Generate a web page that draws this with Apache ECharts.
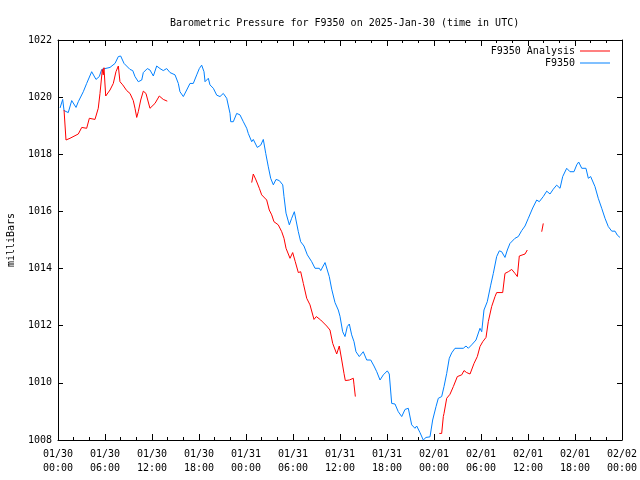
<!DOCTYPE html>
<html>
<head>
<meta charset="utf-8">
<script src="https://cdn.jsdelivr.net/npm/echarts@6/dist/echarts.min.js"></script>
<style>html,body{margin:0;padding:0;background:#fff}#c{width:640px;height:480px}</style>
</head>
<body>
<div id="c"></div>
<script>
var titleText = 'Barometric Pressure for F9350 on 2025-Jan-30 (time in UTC)';
var yAxisName = 'milliBars';
var xTickLabels = ['01/30\n00:00','01/30\n06:00','01/30\n12:00','01/30\n18:00','01/31\n00:00','01/31\n06:00','01/31\n12:00','01/31\n18:00','02/01\n00:00','02/01\n06:00','02/01\n12:00','02/01\n18:00','02/02\n00:00'];
var seriesNames = ['F9350 Analysis', 'F9350'];

// hours since 2025-01-30 00:00 UTC
var blueHours = [0.26,0.60,0.77,1.31,1.75,2.30,2.59,3.23,3.66,4.30,4.85,5.27,5.58,6.00,6.64,7.28,7.70,8.00,8.43,9.19,9.54,9.83,10.25,10.69,10.89,11.40,11.74,12.17,12.60,13.02,13.44,13.88,14.30,14.94,15.36,15.57,16.00,16.43,16.85,17.27,17.71,18.04,18.34,18.64,18.77,19.19,19.40,19.83,20.26,20.68,21.10,21.54,21.96,22.05,22.38,22.81,23.23,23.66,24.09,24.29,24.73,24.93,25.44,25.88,26.21,26.52,26.85,27.15,27.49,27.83,28.25,28.69,28.85,29.11,29.53,29.83,30.17,30.38,30.68,30.98,31.40,31.83,32.39,32.81,33.36,33.54,34.09,34.30,34.63,34.94,35.36,35.78,36.00,36.34,36.64,36.93,37.19,37.49,37.79,38.04,38.46,38.97,39.41,39.92,40.34,40.69,41.11,41.53,42.04,42.29,42.60,43.02,43.44,43.88,44.30,44.72,45.15,45.57,45.79,46.21,46.63,46.98,47.49,47.83,48.26,48.55,48.98,49.28,49.62,49.95,50.26,50.68,51.74,52.09,52.38,52.81,53.36,53.87,54.09,54.38,54.80,55.24,55.57,56.00,56.34,56.64,57.06,57.36,57.70,58.34,58.76,59.20,59.62,60.04,60.60,61.11,61.44,61.95,62.39,62.81,63.23,63.66,64.09,64.43,64.94,65.36,65.87,66.22,66.47,66.86,67.40,67.70,68.00,68.55,68.97,69.41,69.83,70.25,70.69,71.11,71.40,71.74];
var blueValues = [1019.62,1019.92,1019.53,1019.46,1019.88,1019.64,1019.84,1020.19,1020.48,1020.89,1020.62,1020.72,1020.97,1021.00,1021.04,1021.18,1021.42,1021.44,1021.18,1020.97,1020.93,1020.72,1020.54,1020.60,1020.86,1021.00,1020.95,1020.74,1021.09,1021.00,1020.93,1021.00,1020.86,1020.78,1020.48,1020.19,1020.02,1020.25,1020.48,1020.48,1020.78,1021.00,1021.12,1020.89,1020.54,1020.66,1020.43,1020.31,1020.07,1020.02,1020.13,1019.96,1019.43,1019.14,1019.14,1019.43,1019.38,1019.14,1018.91,1018.73,1018.44,1018.52,1018.24,1018.32,1018.52,1018.03,1017.56,1017.16,1016.93,1017.12,1017.08,1016.93,1016.52,1015.94,1015.53,1015.76,1015.99,1015.70,1015.29,1014.94,1014.79,1014.48,1014.24,1014.01,1014.01,1013.93,1014.21,1014.16,1013.72,1013.28,1012.81,1012.55,1012.33,1011.79,1011.62,1011.97,1012.06,1011.68,1011.44,1011.09,1010.92,1011.09,1010.80,1010.80,1010.59,1010.39,1010.10,1010.28,1010.42,1010.31,1009.28,1009.26,1008.99,1008.82,1009.07,1009.11,1008.53,1008.41,1008.49,1008.26,1008.00,1008.09,1008.11,1008.70,1009.17,1009.46,1009.52,1009.87,1010.33,1010.86,1011.05,1011.21,1011.21,1011.29,1011.21,1011.33,1011.50,1011.91,1011.79,1012.55,1012.84,1013.42,1013.83,1014.42,1014.62,1014.59,1014.39,1014.65,1014.88,1015.06,1015.12,1015.33,1015.49,1015.76,1016.12,1016.40,1016.34,1016.52,1016.71,1016.61,1016.78,1016.92,1016.81,1017.22,1017.51,1017.39,1017.39,1017.63,1017.73,1017.51,1017.51,1017.16,1017.22,1016.87,1016.46,1016.11,1015.76,1015.47,1015.31,1015.31,1015.17,1015.09];

// null entries mark gaps in the analysis series
var redHours = [0.77,1.02,1.53,2.59,3.03,3.66,4.00,4.72,5.14,5.36,5.66,5.78,5.87,6.09,6.64,7.06,7.40,7.70,7.91,8.26,8.77,9.19,9.61,9.83,10.05,10.25,10.56,10.89,11.23,11.74,11.96,12.38,12.93,13.44,13.95,19.0,24.73,24.93,25.28,25.70,26.00,26.64,26.97,27.28,27.57,28.12,28.56,28.85,29.11,29.62,29.96,30.29,30.68,30.98,31.32,31.75,32.17,32.68,32.98,33.54,34.30,34.72,35.07,35.58,35.91,36.22,36.51,36.68,37.19,37.70,37.79,37.96,43.0,48.68,48.98,49.19,49.28,49.62,50.04,50.47,50.98,51.54,51.83,52.17,52.60,53.11,53.53,53.87,54.22,54.64,54.93,55.36,55.79,56.00,56.77,57.06,57.49,57.92,58.34,58.64,58.89,59.62,59.91,61.0,61.75,61.95];
var redValues = [1019.55,1018.50,1018.56,1018.71,1018.94,1018.91,1019.26,1019.22,1019.61,1020.13,1020.97,1020.78,1021.03,1020.04,1020.25,1020.48,1020.89,1021.09,1020.54,1020.43,1020.23,1020.13,1019.88,1019.61,1019.29,1019.49,1019.90,1020.21,1020.13,1019.61,1019.57,1019.78,1020.04,1019.92,1019.86,null,1017.01,1017.31,1017.10,1016.81,1016.58,1016.40,1016.05,1015.88,1015.64,1015.53,1015.29,1015.06,1014.71,1014.36,1014.56,1014.24,1013.86,1013.89,1013.48,1012.96,1012.73,1012.22,1012.32,1012.20,1011.99,1011.85,1011.38,1011.01,1011.29,1010.80,1010.33,1010.08,1010.10,1010.16,1009.93,1009.52,null,1008.23,1008.23,1008.82,1008.93,1009.46,1009.60,1009.87,1010.22,1010.28,1010.43,1010.36,1010.31,1010.68,1010.92,1011.27,1011.44,1011.59,1012.14,1012.67,1013.02,1013.16,1013.16,1013.83,1013.89,1013.97,1013.83,1013.72,1014.44,1014.51,1014.65,null,1015.29,1015.58];

var FONT = 'DejaVu Sans Mono';
function pairs(h, v) {
  return h.map(function (x, i) { return [x, v[i] === null ? '-' : v[i]]; });
}
var chart = echarts.init(document.getElementById('c'), null, {renderer: 'canvas'});
var axisLineStyle = {color: '#000', width: 1};
var xCommon = {
  type: 'value', min: 0, max: 72, interval: 6,
  axisLine: {show: true, onZero: false, lineStyle: axisLineStyle},
  axisTick: {show: true, inside: true, length: 6, lineStyle: axisLineStyle},
  minorTick: {show: true, splitNumber: 3, length: 3, lineStyle: axisLineStyle},
  splitLine: {show: false}
};
var yCommon = {
  type: 'value', min: 1008, max: 1022, interval: 2,
  axisLine: {show: true, onZero: false, lineStyle: axisLineStyle},
  axisTick: {show: true, inside: true, length: 5, lineStyle: axisLineStyle},
  splitLine: {show: false}
};
chart.setOption({
  animation: false,
  backgroundColor: '#fff',
  title: {
    text: titleText, left: 165, top: 13,
    textStyle: {fontFamily: FONT, fontSize: 10, fontWeight: 'normal', color: '#000'}
  },
  legend: [
    {data: [seriesNames[0]], right: 30, top: 46, padding: 0, align: 'right', icon: 'rect', itemWidth: 30, itemHeight: 1,
     textStyle: {fontFamily: FONT, fontSize: 10, color: '#000'}},
    {data: [seriesNames[1]], right: 30, top: 58, padding: 0, align: 'right', icon: 'rect', itemWidth: 30, itemHeight: 1,
     textStyle: {fontFamily: FONT, fontSize: 10, color: '#000'}}
  ],
  grid: {left: 58, right: 18, top: 40, bottom: 40, containLabel: false, outerBoundsMode: 'none'},
  xAxis: [
    Object.assign({}, xCommon, {
      position: 'bottom',
      axisLabel: {
        margin: 7, fontFamily: FONT, fontSize: 10, color: '#000', lineHeight: 14,
        formatter: function (v) { return xTickLabels[Math.round(v / 6)] || ''; }
      }
    }),
    Object.assign({}, xCommon, {position: 'top', axisLabel: {show: false}})
  ],
  yAxis: [
    Object.assign({}, yCommon, {
      position: 'left',
      name: yAxisName, nameLocation: 'middle', nameRotate: 90, nameGap: 42,
      nameTextStyle: {fontFamily: FONT, fontSize: 10, color: '#000'},
      axisLabel: {margin: 6, fontFamily: FONT, fontSize: 10, color: '#000',
                  formatter: function (v) { return String(v); }}
    }),
    Object.assign({}, yCommon, {position: 'right', axisLabel: {show: false}})
  ],
  series: [
    {name: seriesNames[0], type: 'line', data: pairs(redHours, redValues), showSymbol: false, symbol: 'none',
     connectNulls: false, lineStyle: {color: '#ff0000', width: 1}, itemStyle: {color: '#ff0000'}, z: 3},
    {name: seriesNames[1], type: 'line', data: pairs(blueHours, blueValues), showSymbol: false, symbol: 'none',
     lineStyle: {color: '#0080ff', width: 1}, itemStyle: {color: '#0080ff'}, z: 2}
  ]
});
</script>
</body>
</html>
